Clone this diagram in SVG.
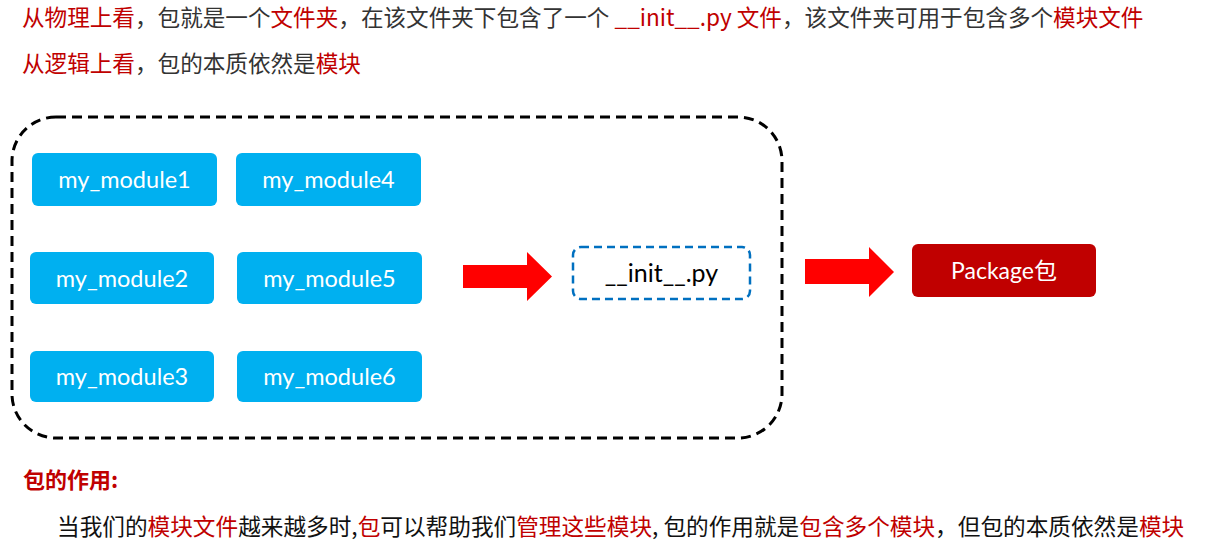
<svg xmlns="http://www.w3.org/2000/svg" width="1213" height="545" viewBox="0 0 1213 545">
  <style>
    .cn { font-family: "Noto Sans CJK SC", "Noto Sans", sans-serif; }
    .dark { fill: #333333; }
    .red { fill: #C00000; }
    .mod rect { fill: #00B0F0; }
    .lbl { font-family: Lato, "Noto Sans", "Noto Sans CJK SC", sans-serif; font-size: 23.5px; text-anchor: middle; fill: #FFFFFF; }
    .arrow { fill: #FF0000; }
  </style>

  <!-- intro lines -->
  <g id="intro" class="cn" font-size="22.6">
    <text x="22" y="26" class="dark"><tspan class="red">从物理上看</tspan>，包就是一个<tspan class="red">文件夹</tspan>，在该文件夹下包含了一个 <tspan class="red">__init__.py 文件</tspan>，该文件夹可用于包含多个<tspan class="red">模块文件</tspan></text>
    <text x="22" y="72" class="dark"><tspan class="red">从逻辑上看</tspan>，包的本质依然是<tspan class="red">模块</tspan></text>
  </g>

  <!-- package folder outline -->
  <g id="folder">
    <rect x="12" y="117" width="770" height="321" rx="44" ry="44" fill="none" stroke="#000000" stroke-width="3" stroke-dasharray="10 6"/>
  </g>

  <!-- module files -->
  <g id="my_module1" class="mod"><rect x="32" y="153" width="185" height="53" rx="6"/><text class="lbl" x="124.5" y="188">my_module1</text></g>
  <g id="my_module4" class="mod"><rect x="236" y="153" width="185" height="53" rx="6"/><text class="lbl" x="328.5" y="188">my_module4</text></g>
  <g id="my_module2" class="mod"><rect x="30" y="252" width="184" height="52" rx="6"/><text class="lbl" x="122" y="286.5">my_module2</text></g>
  <g id="my_module5" class="mod"><rect x="237" y="252" width="185" height="52" rx="6"/><text class="lbl" x="329.5" y="286.5">my_module5</text></g>
  <g id="my_module3" class="mod"><rect x="30" y="351" width="184" height="51" rx="6"/><text class="lbl" x="122" y="385">my_module3</text></g>
  <g id="my_module6" class="mod"><rect x="237" y="351" width="185" height="51" rx="6"/><text class="lbl" x="329.5" y="385">my_module6</text></g>

  <!-- __init__.py file -->
  <g id="init_py">
    <rect x="573" y="247" width="177" height="52" rx="8" fill="#FFFFFF" stroke="#0070C0" stroke-width="2.5" stroke-dasharray="8 5"/>
    <text x="661.5" y="282" font-family="Lato, 'Noto Sans', sans-serif" font-size="25" text-anchor="middle" fill="#000000">__init__.py</text>
  </g>

  <!-- resulting package -->
  <g id="package">
    <rect x="912" y="244" width="184" height="53" rx="6" fill="#C00000"/>
    <text x="1004" y="279" font-family="Lato, 'Noto Sans CJK SC', sans-serif" font-size="23" text-anchor="middle" fill="#FFFFFF">Package包</text>
  </g>

  <!-- connectors -->
  <g id="connectors">
    <polygon class="arrow" points="463,265 527,265 527,252 552,276.5 527,301 527,288 463,288"/>
    <polygon class="arrow" points="805,259 869,259 869,247 894,272 869,297 869,284 805,284"/>
  </g>

  <!-- role of packages -->
  <g id="summary" class="cn">
    <text x="23" y="488" font-size="22" font-weight="bold" fill="#C00000">包的作用:</text>
    <text x="57" y="535" font-size="22.65" fill="#111111">当我们的<tspan class="red">模块文件</tspan>越来越多时,<tspan class="red">包</tspan>可以帮助我们<tspan class="red">管理这些模块</tspan>, 包的作用就是<tspan class="red">包含多个模块</tspan>，但包的本质依然是<tspan class="red">模块</tspan></text>
  </g>
</svg>
